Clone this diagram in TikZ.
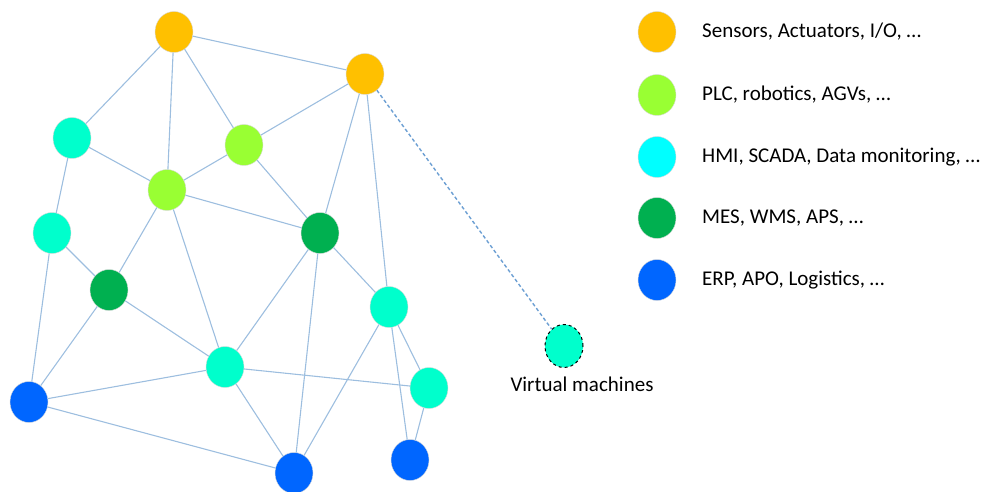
\documentclass[tikz,border=0pt]{standalone}
\usepackage{fontspec}
\setmainfont{Carlito}
\usetikzlibrary{shapes.geometric}
\definecolor{cOrange}{HTML}{FFC000}
\definecolor{cLime}{HTML}{99FF33}
\definecolor{cAqua}{HTML}{00FFCC}
\definecolor{cCyan}{HTML}{00FFFF}
\definecolor{cGreen}{HTML}{00B050}
\definecolor{cBlue}{HTML}{0066FF}
\definecolor{cEdge}{HTML}{9DBEDF}
\definecolor{cDash}{HTML}{6C9FD3}
\tikzset{
  dev/.style={ellipse, inner sep=0pt, minimum width=38pt, minimum height=41pt,
              draw=white!85!black, line width=0.4pt, fill=#1},
  link/.style={draw=cEdge, line width=1.1pt},
  vlink/.style={draw=cDash, line width=1.4pt, dash pattern=on 3.5pt off 2.5pt},
  legtext/.style={anchor=west, inner sep=0pt, font=\fontsize{21}{25}\selectfont},
}
\begin{document}
\begin{tikzpicture}[x=1pt,y=-1pt]
\useasboundingbox (0,0) rectangle (988,492);

% network devices
\node[dev=cOrange] (o1) at (174,32) {};
\node[dev=cOrange] (o2) at (365,74) {};
\node[dev=cLime]   (g1) at (244,145) {};
\node[dev=cLime]   (g2) at (167,190) {};
\node[dev=cAqua]   (c1) at (72,138) {};
\node[dev=cAqua]   (c2) at (52,233) {};
\node[dev=cGreen]  (d1) at (109,290) {};
\node[dev=cGreen]  (d2) at (320,233) {};
\node[dev=cAqua]   (c3) at (389,307) {};
\node[dev=cAqua]   (c4) at (225,367) {};
\node[dev=cAqua]   (c5) at (429,388) {};
\node[dev=cBlue]   (b1) at (29,402) {};
\node[dev=cBlue]   (b2) at (294,473) {};
\node[dev=cBlue]   (b3) at (410,460) {};

% virtual machine
\node[dev=cAqua, draw=black, dashed, line width=1pt, minimum height=43pt] (vm) at (564,346) {};
\node[font=\fontsize{21}{25}\selectfont, inner sep=0pt] (vmlabel) at (582,384) {Virtual machines};

% links
\draw[link] (o1) -- (o2);
\draw[link] (o1) -- (c1);
\draw[link] (o1) -- (g2);
\draw[link] (o1) -- (g1);
\draw[link] (o2) -- (g1);
\draw[link] (o2) -- (d2);
\draw[link] (o2) -- (c3);
\draw[link] (c1) -- (c2);
\draw[link] (c1) -- (g2);
\draw[link] (g1) -- (g2);
\draw[link] (g1) -- (d2);
\draw[link] (g2) -- (d2);
\draw[link] (g2) -- (d1);
\draw[link] (g2) -- (c4);
\draw[link] (c2) -- (d1);
\draw[link] (c2) -- (b1);
\draw[link] (d1) -- (b1);
\draw[link] (d1) -- (c4);
\draw[link] (d2) -- (c4);
\draw[link] (d2) -- (b2);
\draw[link] (d2) -- (c3);
\draw[link] (c3) -- (b2);
\draw[link] (c3) -- (b3);
\draw[link] (c3) -- (c5);
\draw[link] (c4) -- (c5);
\draw[link] (c4) -- (b1);
\draw[link] (c4) -- (b2);
\draw[link] (b1) -- (b2);
\draw[link] (c5) -- (b3);
\draw[vlink] (o2) -- (vm);

% legend
\node[dev=cOrange] (l1) at (657,32) {};
\node[dev=cLime]   (l2) at (657,95) {};
\node[dev=cCyan]   (l3) at (657,157) {};
\node[dev=cGreen]  (l4) at (657,218) {};
\node[dev=cBlue]   (l5) at (657,280) {};
\node[legtext] (t1) at (702,32)  {Sensors, Actuators, I/O, …};
\node[legtext] (t2) at (702,95)  {PLC, robotics, AGVs, …};
\node[legtext] (t3) at (702,157) {HMI, SCADA, Data monitoring, …};
\node[legtext] (t4) at (702,218) {MES, WMS, APS, …};
\node[legtext] (t5) at (702,280) {ERP, APO, Logistics, …};
\end{tikzpicture}
\end{document}
